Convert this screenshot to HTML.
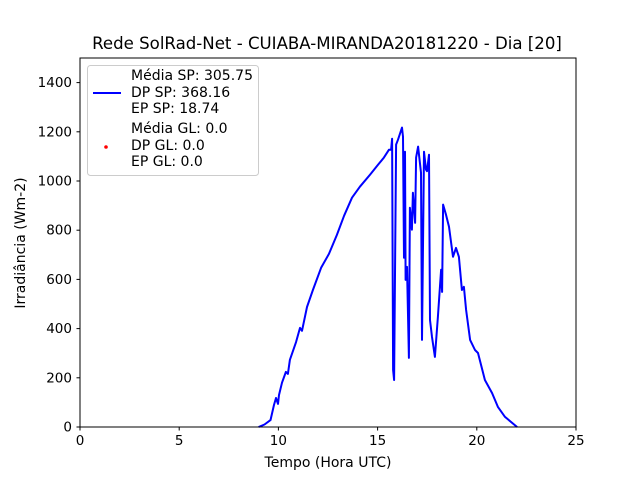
<!DOCTYPE html>
<html><head><meta charset="utf-8"><style>
body{margin:0;background:#fff}
svg text{font-family:"DejaVu Sans","Liberation Sans",sans-serif;fill:#000}
</style></head><body>
<svg id="chart" width="640" height="480" viewBox="0 0 640 480">
<rect width="640" height="480" fill="#fff"/>
<text x="327" y="49" font-size="16.6" text-anchor="middle">Rede SolRad-Net - CUIABA-MIRANDA20181220 - Dia [20]</text>
<g id="xticks"></g>
<g id="yticks"></g>
<polyline id="line" fill="none" stroke="#0000ff" stroke-width="2" stroke-linejoin="round"/>
<rect x="80" y="58" width="496" height="369" fill="none" stroke="#000" stroke-width="1"/>
<text x="328" y="467" font-size="14" text-anchor="middle">Tempo (Hora UTC)</text>
<text transform="translate(25,243) rotate(-90)" font-size="14" text-anchor="middle">Irradiância (Wm-2)</text>
<g>
<rect x="87.5" y="65.5" width="171" height="110" rx="3" fill="#fff" fill-opacity="0.8" stroke="#ccc"/>
<line x1="93" y1="93" x2="121" y2="93" stroke="#0000ff" stroke-width="2"/>
<circle cx="106" cy="147" r="1.8" fill="#ff0000"/>
<g font-size="14">
<text x="131" y="80">Média SP: 305.75</text>
<text x="131" y="97">DP SP: 368.16</text>
<text x="131" y="113">EP SP: 18.74</text>
<text x="131" y="133">Média GL: 0.0</text>
<text x="131" y="150">DP GL: 0.0</text>
<text x="131" y="166">EP GL: 0.0</text>
</g></g>
</svg>
<script>
const hours=[9.0,9.3,9.6,9.78,9.88,9.98,10.03,10.18,10.38,10.48,10.58,10.89,11.09,11.19,11.44,11.74,12.15,12.55,12.95,13.31,13.71,14.11,14.62,15.02,15.32,15.57,15.68,15.73,15.78,15.83,15.93,16.03,16.23,16.28,16.33,16.38,16.41,16.48,16.58,16.63,16.73,16.78,16.89,16.94,17.04,17.19,17.24,17.34,17.44,17.49,17.59,17.64,17.74,17.89,18.04,18.2,18.25,18.3,18.45,18.6,18.8,18.95,19.1,19.25,19.35,19.46,19.66,19.91,20.06,20.41,20.77,21.07,21.42,22.03];
const irradiance=[0,10,28,90,118,94,130,180,224,216,273,346,403,391,488,557,647,704,781,859,932,977,1026,1066,1095,1127,1127,1172,232,191,1148,1168,1217,1180,688,1119,598,651,281,891,802,952,830,1095,1140,1034,354,1119,1046,1040,1107,435,366,285,448,639,549,904,863,814,692,728,692,557,570,476,354,313,301,191,138,81,41,0];
const xTicks=[0,5,10,15,20,25];
const yTicks=[0,200,400,600,800,1000,1200,1400];
const X=h=>80+h*496/25, Y=v=>427-v*369/1500;
const NS="http://www.w3.org/2000/svg";
const xg=document.getElementById('xticks'), yg=document.getElementById('yticks');
xTicks.forEach(t=>{
 const l=document.createElementNS(NS,'line');
 l.setAttribute('x1',X(t));l.setAttribute('x2',X(t));l.setAttribute('y1',427);l.setAttribute('y2',430.5);l.setAttribute('stroke','#000');
 
 
 xg.appendChild(l);
 const s=document.createElementNS(NS,'text');
 s.setAttribute('x',X(t));s.setAttribute('y',445);s.setAttribute('font-size','13.5');s.setAttribute('text-anchor','middle');s.textContent=t;
 
 
 xg.appendChild(s);
});
yTicks.forEach(t=>{
 const l=document.createElementNS(NS,'line');
 l.setAttribute('x1',76.5);l.setAttribute('x2',80);l.setAttribute('y1',Y(t));l.setAttribute('y2',Y(t));l.setAttribute('stroke','#000');
 
 
 yg.appendChild(l);
 const s=document.createElementNS(NS,'text');
 s.setAttribute('x',72);s.setAttribute('y',Y(t)+4.5);s.setAttribute('font-size','13.5');s.setAttribute('text-anchor','end');s.textContent=t;
 
 
 yg.appendChild(s);
});
document.getElementById('line').setAttribute('points',hours.map((h,i)=>X(h).toFixed(1)+','+Y(irradiance[i]).toFixed(1)).join(' '));
</script>
</body></html>
